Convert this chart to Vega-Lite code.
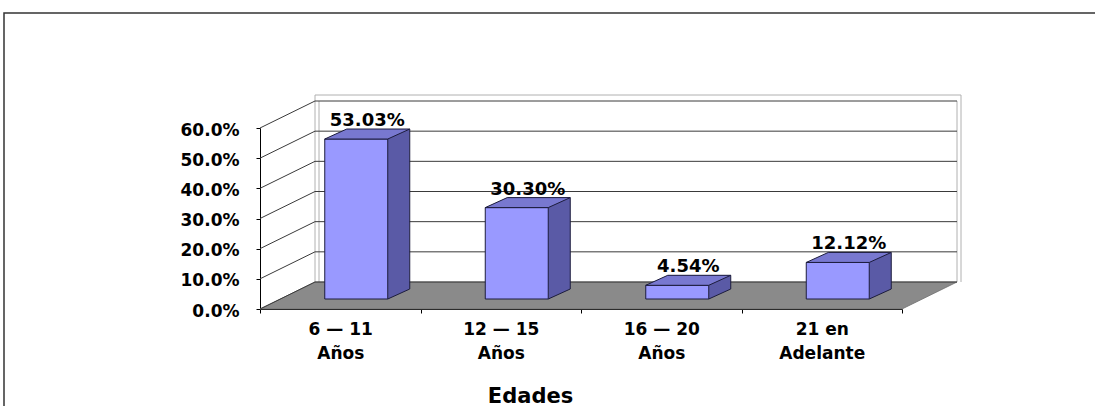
{
  "$schema": "https://vega.github.io/schema/vega-lite/v6.json",
  "width": 697,
  "height": 309,
  "autosize": "none",
  "padding": {"left": 260, "top": 0, "right": 138, "bottom": 97},
  "background": "white",
  "view": {"stroke": null},
  "config": {"font": "DejaVu Sans"},
  "datasets": {
    "edades": [
      {"edad": "6 — 11 Años", "pct": 0.5303},
      {"edad": "12 — 15 Años", "pct": 0.303},
      {"edad": "16 — 20 Años", "pct": 0.0454},
      {"edad": "21 en Adelante", "pct": 0.1212}
    ],
    "ticks": [
      {"v": 0}, {"v": 0.1}, {"v": 0.2}, {"v": 0.3}, {"v": 0.4}, {"v": 0.5}, {"v": 0.6}
    ]
  },
  "layer": [
    {
      "data": {"name": "ticks"},
      "transform": [{"filter": "datum.v == 0"}],
      "mark": {"type": "point", "shape": "M-336.25,-296 L760,-296 L760,110 L-336.25,110 Z", "size": 4, "filled": false, "stroke": "#333333", "strokeWidth": 1.5, "opacity": 1},
      "encoding": {
        "x": {
          "datum": "6 — 11 Años",
          "type": "nominal",
          "scale": {"type": "band", "domain": ["6 — 11 Años", "12 — 15 Años", "16 — 20 Años", "21 en Adelante"], "range": [0, 642], "paddingInner": 0, "paddingOuter": 0},
          "axis": {
            "title": "Edades",
            "titleFont": "DejaVu Sans",
            "titleFontSize": 21,
            "titleFontWeight": "bold",
            "titleColor": "black",
            "titleX": 270,
            "titleY": 93,
            "titleAlign": "center",
            "titleBaseline": "alphabetic",
            "labelAngle": 0,
            "labelFont": "DejaVu Sans",
            "labelFontSize": 17,
            "labelFontWeight": "bold",
            "labelColor": "black",
            "labelLineHeight": 24,
            "labelPadding": 8,
            "labelExpr": "[slice(datum.label, 0, lastindexof(datum.label, ' ')), slice(datum.label, lastindexof(datum.label, ' ') + 1)]",
            "tickBand": "extent",
            "tickSize": 4,
            "tickColor": "black",
            "domainColor": "black",
            "grid": false
          }
        },
        "y": {
          "field": "v",
          "type": "quantitative",
          "scale": {"domain": [0, 0.6], "range": [309, 128], "nice": false},
          "axis": {
            "title": null,
            "format": ".1%",
            "values": [0, 0.1, 0.2, 0.3, 0.4, 0.5, 0.6],
            "labelFont": "DejaVu Sans",
            "labelFontSize": 17,
            "labelFontWeight": "bold",
            "labelColor": "black",
            "labelPadding": 17,
            "labelOffset": 2,
            "tickSize": 4,
            "tickColor": "black",
            "domainColor": "black",
            "grid": false
          }
        }
      }
    },
    {
      "data": {"name": "ticks"},
      "transform": [{"filter": "datum.v == 0"}],
      "mark": {"type": "point", "shape": "M-25.25,-27 L-25.25,-214 L620.75,-214 L620.75,-27 M616.75,-27 L616.75,-208 M-21.25,-27 L-21.25,-208", "size": 4, "filled": false, "stroke": "#b0b0b0", "strokeWidth": 1, "opacity": 1},
      "encoding": {
        "x": {"datum": "6 — 11 Años", "type": "nominal"},
        "y": {"field": "v", "type": "quantitative"}
      }
    },
    {
      "data": {"name": "ticks"},
      "transform": [{"filter": "datum.v == 0"}],
      "mark": {"type": "point", "shape": "M-80.25,0 L561.75,0 L616.75,-27 L-25.25,-27 Z", "size": 4, "filled": true, "fill": "#8a8a8a", "stroke": "#6e6e6e", "strokeWidth": 0.8, "opacity": 1},
      "encoding": {
        "x": {"datum": "6 — 11 Años", "type": "nominal"},
        "y": {"field": "v", "type": "quantitative"}
      }
    },
    {
      "data": {"name": "ticks"},
      "mark": {"type": "point", "shape": "M-80.25,0 L-25.25,-27 L616.75,-27", "size": 4, "filled": false, "stroke": "#3a3a3a", "strokeWidth": 1, "opacity": 1},
      "encoding": {
        "x": {"datum": "6 — 11 Años", "type": "nominal"},
        "y": {"field": "v", "type": "quantitative"}
      }
    },
    {
      "data": {"name": "edades"},
      "mark": {"type": "bar", "width": {"band": 0.3925}, "xOffset": 38, "yOffset": -20, "y2Offset": -20, "fill": "#5a5aa6", "strokeWidth": 0},
      "encoding": {
        "x": {"field": "edad", "type": "nominal"},
        "y": {"field": "pct", "type": "quantitative"},
        "y2": {"datum": 0}
      }
    },
    {
      "data": {"name": "edades"},
      "mark": {"type": "point", "shape": "M31.5,0 L53.5,-10 L31.5,-10 Z", "size": 4, "filled": true, "fill": "#5a5aa6", "strokeWidth": 0, "xOffset": 16, "yOffset": -10, "opacity": 1},
      "encoding": {
        "x": {"field": "edad", "type": "nominal"},
        "y": {"datum": 0, "type": "quantitative"}
      }
    },
    {
      "data": {"name": "edades"},
      "mark": {"type": "point", "shape": "M31.5,0 L53.5,-10", "size": 4, "filled": false, "stroke": "#1c1c3c", "strokeWidth": 1, "xOffset": 16, "yOffset": -10, "opacity": 1},
      "encoding": {
        "x": {"field": "edad", "type": "nominal"},
        "y": {"datum": 0, "type": "quantitative"}
      }
    },
    {
      "data": {"name": "edades"},
      "mark": {"type": "rule", "xOffset": 69.5, "yOffset": -20, "y2Offset": -20, "stroke": "#1c1c3c", "strokeWidth": 1},
      "encoding": {
        "x": {"field": "edad", "type": "nominal"},
        "y": {"field": "pct", "type": "quantitative"},
        "y2": {"datum": 0}
      }
    },
    {
      "data": {"name": "edades"},
      "mark": {"type": "bar", "width": {"band": 0.3925}, "xOffset": 16, "yOffset": -10, "y2Offset": -10, "fill": "#9999ff", "stroke": "#1c1c3c", "strokeWidth": 1},
      "encoding": {
        "x": {"field": "edad", "type": "nominal"},
        "y": {"field": "pct", "type": "quantitative"},
        "y2": {"datum": 0}
      }
    },
    {
      "data": {"name": "edades"},
      "mark": {"type": "point", "shape": "M-31.5,0 L31.5,0 L53.5,-10 L-9.5,-10 Z", "size": 4, "filled": true, "fill": "#7878d0", "stroke": "#1c1c3c", "strokeWidth": 1, "xOffset": 16, "yOffset": -10, "opacity": 1},
      "encoding": {
        "x": {"field": "edad", "type": "nominal"},
        "y": {"field": "pct", "type": "quantitative"}
      }
    },
    {
      "data": {"name": "edades"},
      "mark": {"type": "text", "font": "DejaVu Sans", "fontSize": 18, "fontWeight": "bold", "color": "black", "align": "center", "baseline": "alphabetic", "xOffset": 27, "yOffset": -23},
      "encoding": {
        "x": {"field": "edad", "type": "nominal"},
        "y": {"field": "pct", "type": "quantitative"},
        "text": {"field": "pct", "type": "quantitative", "format": ".2%"}
      }
    }
  ]
}
